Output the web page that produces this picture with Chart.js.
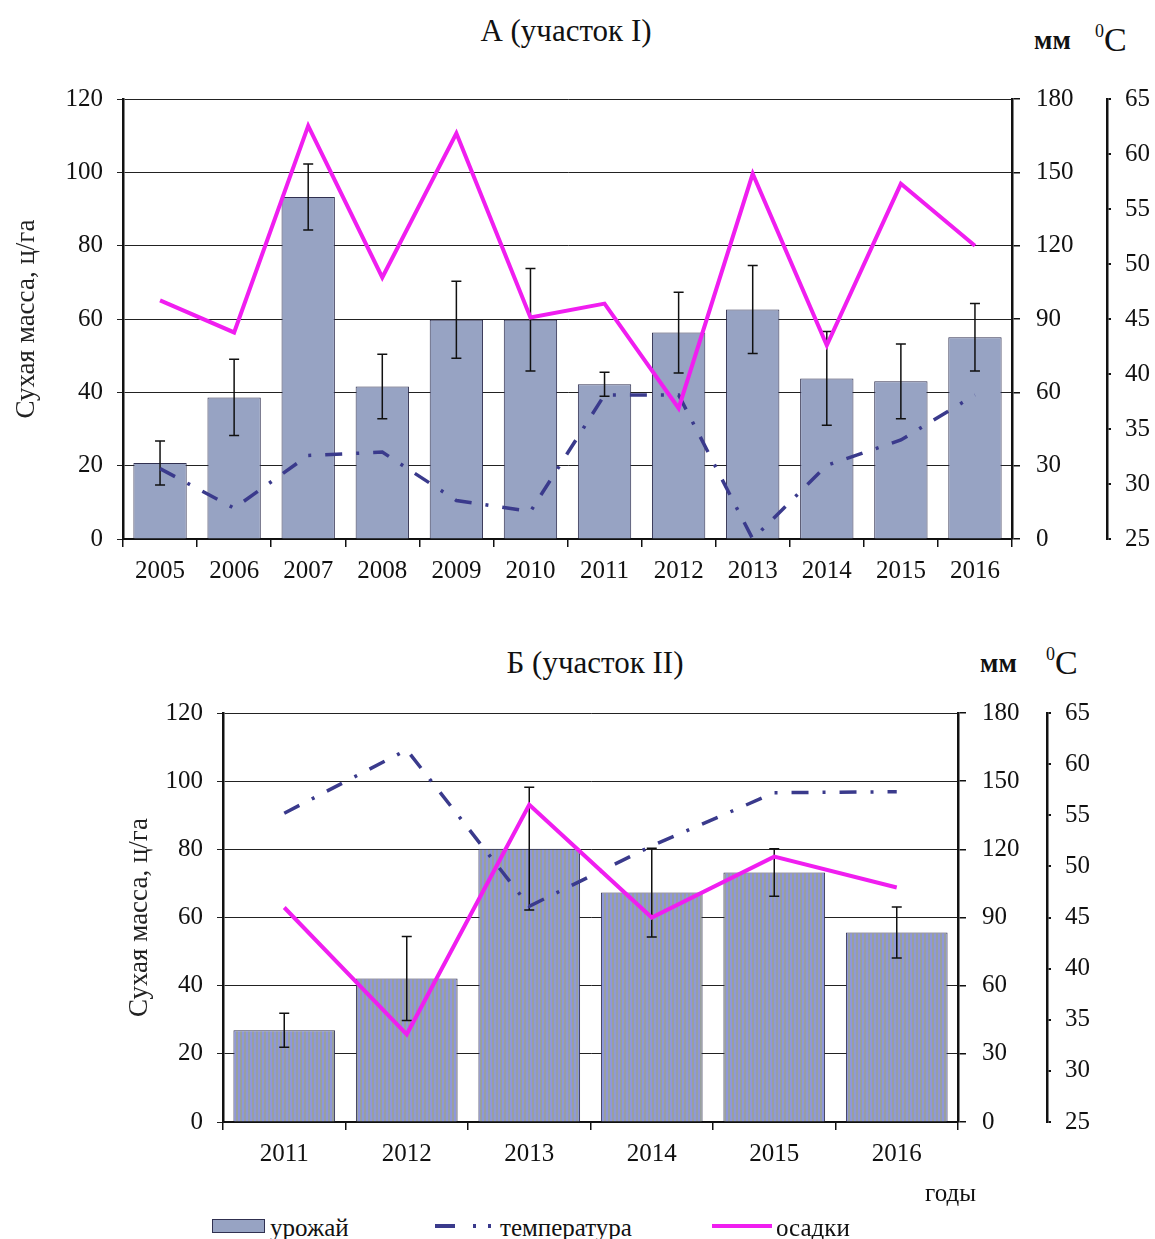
<!DOCTYPE html>
<html>
<head>
<meta charset="utf-8">
<script src="https://cdn.jsdelivr.net/npm/chart.js@4"></script>
<style>
  body { margin: 0; background: #fff; }
  #page { position: relative; width: 1155px; height: 1239px; font-family: 'Liberation Serif', serif; color: #111; }
  canvas { position: absolute; left: 0; }
  .lbl { position: absolute; white-space: nowrap; line-height: 1; }
  .ttl { font-size: 31px; transform: translateX(-50%); }
  .mm { font-size: 27px; font-weight: bold; }
  .deg { font-size: 34px; }
  .deg sup { font-size: 18px; vertical-align: 14px; }
  .leg { font-size: 25px; }
</style>
</head>
<body>
<div id="page">
  <div class="lbl ttl" style="left:566px; top:15px;">А (участок I)</div>
  <div class="lbl mm" style="left:1034px; top:27px;">мм</div>
  <div class="lbl deg" style="left:1095px; top:22px;"><sup>0</sup>C</div>
  <canvas id="chartA" width="1155" height="520" style="top:68px;"></canvas>

  <div class="lbl ttl" style="left:595px; top:647px;">Б (участок II)</div>
  <div class="lbl mm" style="left:980px; top:650px;">мм</div>
  <div class="lbl deg" style="left:1046px; top:645px;"><sup>0</sup>C</div>
  <canvas id="chartB" width="1155" height="560" style="top:640px;"></canvas>

  <div class="lbl leg" style="left:925px; top:1180px;">годы</div>

  <!-- legend -->
  <div class="lbl" style="left:212px; top:1219px; width:51px; height:12px; background:#97a3c3; border:1px solid #303050;"></div>
  <div class="lbl leg" style="left:270px; top:1215px;">урожай</div>
  <svg class="lbl" style="left:435px; top:1222px;" width="62" height="8"><line x1="0" y1="4" x2="62" y2="4" stroke="#3a3a8c" stroke-width="4" stroke-dasharray="20 18 3 12 3 20"/></svg>
  <div class="lbl leg" style="left:500px; top:1215px;">температура</div>
  <svg class="lbl" style="left:712px; top:1222px;" width="60" height="8"><line x1="0" y1="4" x2="60" y2="4" stroke="#f01ef0" stroke-width="4"/></svg>
  <div class="lbl leg" style="left:776px; top:1215px;">осадки</div>
</div>

<script>
// Участок I
const yearsA = ['2005', '2006', '2007', '2008', '2009', '2010', '2011', '2012', '2013', '2014', '2015', '2016'];
const yieldA = [20.7, 38.6, 93.3, 41.6, 59.8, 59.8, 42.2, 56.3, 62.6, 43.8, 43.0, 55.0];
const yieldErrA = [6.0, 10.4, 9.0, 8.8, 10.5, 14.0, 3.3, 11.0, 12.0, 12.8, 10.2, 9.2];
const tempA = [31.4, 27.8, 32.6, 32.9, 28.5, 27.5, 38.1, 38.1, 25.0, 31.7, 34.0, 38.1];
const precipA = [97.6, 84.5, 169, 107, 166, 90.6, 96.3, 53.5, 149.4, 79.2, 145.3, 120];

// Участок II
const yearsB = ['2011', '2012', '2013', '2014', '2015', '2016'];
const yieldB = [26.9, 42.1, 80.2, 67.3, 73.2, 55.6];
const yieldErrB = [5.0, 12.3, 18.0, 13.0, 7.0, 7.5];
const tempB = [55.2, 61.4, 46.1, 52.0, 57.2, 57.3];
const precipB = [94.4, 38.6, 139.6, 90, 116.8, 103.2];

const FONT = 'Liberation Serif';

// error bars drawn right after the bar dataset
const errorBars = {
    id: 'errorBars',
    afterDatasetDraw(chart, args, opts) {
        if (args.index !== 0 || !opts.errors) return;
        const y = chart.scales.y;
        const ctx = chart.ctx;
        ctx.save();
        ctx.strokeStyle = '#111';
        ctx.lineWidth = 1.5;
        args.meta.data.forEach((bar, i) => {
            const v = chart.data.datasets[0].data[i];
            const e = opts.errors[i];
            const t = y.getPixelForValue(v + e);
            const b = y.getPixelForValue(v - e);
            ctx.beginPath();
            ctx.moveTo(bar.x, t); ctx.lineTo(bar.x, b);
            ctx.moveTo(bar.x - 5, t); ctx.lineTo(bar.x + 5, t);
            ctx.moveTo(bar.x - 5, b); ctx.lineTo(bar.x + 5, b);
            ctx.stroke();
        });
        ctx.restore();
    }
};

// vertical stripes for the lower chart's bars
function stripes() {
    const c = document.createElement('canvas');
    c.width = 4; c.height = 4;
    const g = c.getContext('2d');
    g.fillStyle = '#99a09e'; g.fillRect(0, 0, 2, 4);
    g.fillStyle = '#8e97da'; g.fillRect(2, 0, 2, 4);
    return g.createPattern(c, 'repeat');
}

function makeChart(id, cfg) {
    const tick = { font: { family: FONT, size: 25 }, color: '#111' };
    return new Chart(document.getElementById(id), {
        type: 'bar',
        data: {
            labels: cfg.labels,
            datasets: [
                {
                    label: 'урожай',
                    data: cfg.yield,
                    backgroundColor: cfg.barFill,
                    borderColor: '#303050',
                    borderWidth: 1,
                    categoryPercentage: 1,
                    barPercentage: cfg.barPct,
                    yAxisID: 'y',
                    order: 3
                },
                {
                    type: 'line',
                    label: 'температура',
                    data: cfg.temp,
                    borderColor: '#3a3a8c',
                    borderWidth: 3.5,
                    borderDash: [17, 14, 3, 14],
                    pointRadius: 0,
                    tension: 0,
                    yAxisID: 'y2',
                    order: 2
                },
                {
                    type: 'line',
                    label: 'осадки',
                    data: cfg.precip,
                    borderColor: '#f01ef0',
                    borderWidth: 4,
                    pointRadius: 0,
                    tension: 0,
                    yAxisID: 'y1',
                    order: 1
                }
            ]
        },
        options: {
            responsive: false,
            animation: false,
            layout: { padding: cfg.padding },
            plugins: {
                legend: { display: false },
                tooltip: { enabled: false },
                errorBars: { errors: cfg.errors }
            },
            scales: {
                x: {
                    grid: { offset: true, drawOnChartArea: false, tickLength: 8, color: '#111', lineWidth: 1.5 },
                    border: { color: '#111', width: 2 },
                    ticks: Object.assign({ padding: 9, autoSkip: false, maxRotation: 0 }, tick),
                    afterFit: s => { s.height = 40; }
                },
                y: {
                    min: 0, max: 120,
                    ticks: Object.assign({ stepSize: 20, padding: 14 }, tick),
                    grid: { color: '#222', lineWidth: 1, tickLength: 6 },
                    border: { color: '#111', width: 2.5 },
                    title: {
                        display: true,
                        text: 'Сухая масса, ц/га',
                        font: { family: FONT, size: 27 },
                        color: '#222',
                        padding: { top: cfg.titlePad }
                    },
                    afterFit: s => { s.width = cfg.leftW; }
                },
                y1: {
                    position: 'right',
                    min: 0, max: 180,
                    ticks: Object.assign({ stepSize: 30, padding: 16 }, tick),
                    grid: { drawOnChartArea: false, tickLength: 8, color: '#111', lineWidth: 1.5 },
                    border: { color: '#111', width: 2.5 },
                    afterFit: s => { s.width = cfg.mmW; }
                },
                y2: {
                    position: 'right',
                    min: 25, max: 65,
                    ticks: Object.assign({ stepSize: 5, padding: 14 }, tick),
                    grid: { drawOnChartArea: false, tickLength: 4, color: '#111', lineWidth: 2 },
                    border: { color: '#111', width: 2.5 },
                    afterFit: s => { s.width = cfg.degW; }
                }
            }
        },
        plugins: [errorBars]
    });
}

makeChart('chartA', {
    labels: yearsA, yield: yieldA, errors: yieldErrA, temp: tempA, precip: precipA,
    barFill: '#97a3c3', barPct: 0.72,
    padding: { top: 30, bottom: 9, left: 0, right: 0 },
    leftW: 123, mmW: 95, degW: 48, titlePad: 11
});

makeChart('chartB', {
    labels: yearsB, yield: yieldB, errors: yieldErrB, temp: tempB, precip: precipB,
    barFill: stripes(), barPct: 0.83,
    padding: { top: 73, bottom: 38, left: 0, right: 0 },
    leftW: 223, mmW: 89, degW: 108, titlePad: 124
});
</script>
</body>
</html>
